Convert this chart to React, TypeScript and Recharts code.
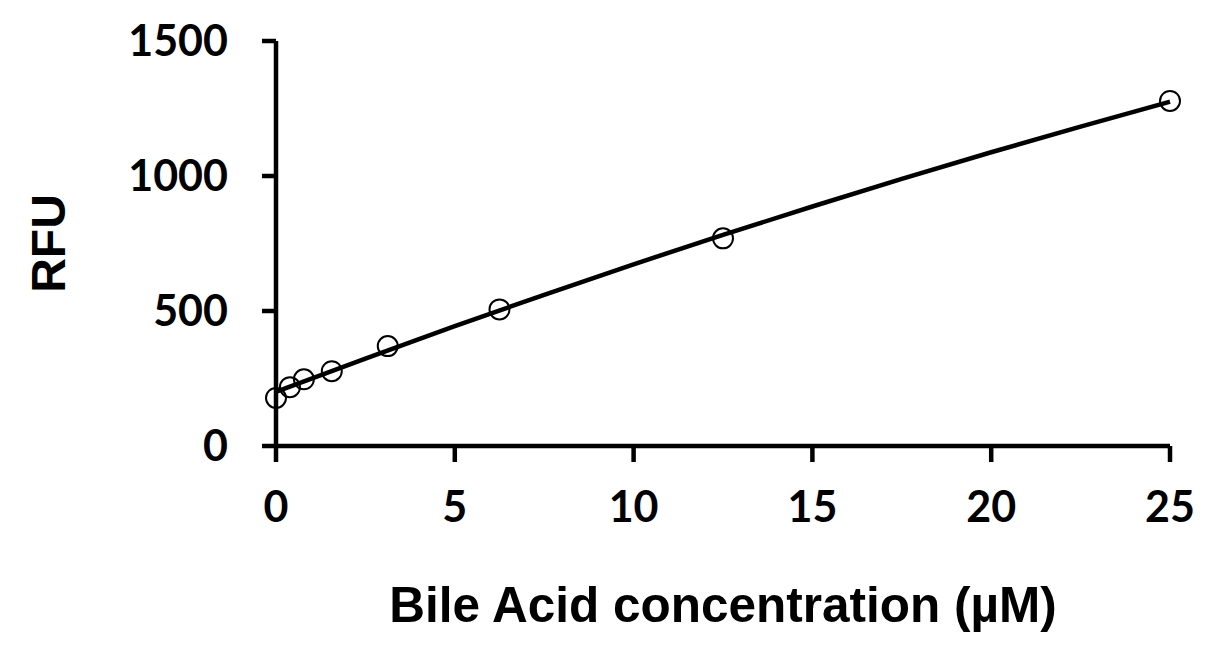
import { ComposedChart, Line, Scatter, XAxis, YAxis, Label } from "recharts";

// measured standards (µM vs RFU)
const concentrations = [0, 0.39, 0.78, 1.56, 3.125, 6.25, 12.5, 25];
const rfuValues = [178, 218, 247, 277, 370, 506, 769, 1278];

// fitted curve
const fitX = [0, 2.5, 5, 7.5, 10, 12.5, 15, 17.5, 20, 22.5, 25];
const fitY = [201, 324, 444, 560, 673, 782, 887, 989, 1088, 1183, 1275];

const xTicks = [0, 5, 10, 15, 20, 25];
const yTicks = [0, 500, 1000, 1500];

const xTitle = "Bile Acid concentration (µM)";
const yTitle = "RFU";

const points = concentrations.map((x, i) => ({ x, y: rfuValues[i] }));
const fit = fitX.map((x, i) => ({ x, y: fitY[i] }));

const tickStyle = { fill: "#000", fontSize: 43, fontWeight: 700, fontFamily: "Lato" };
const titleFont = "'Liberation Sans', Arial, sans-serif";

const OpenCircle = (props: any) => {
  if (props.cx == null || props.cy == null) return null;
  return <circle cx={props.cx} cy={props.cy} r={10} fill="none" stroke="#000" strokeWidth={2} />;
};

export default function App() {
  return (
    <div style={{ position: "absolute", left: 0, top: 0, width: 1218, height: 664, background: "#fff" }}>
      <ComposedChart width={1218} height={664} margin={{ top: 41, right: 48, bottom: 0, left: 0 }}>
        <XAxis
          type="number"
          dataKey="x"
          domain={[0, 25]}
          ticks={xTicks}
          height={218}
          tick={tickStyle}
          tickSize={16}
          tickMargin={29}
          axisLine={{ stroke: "#000", strokeWidth: 4.5 }}
          tickLine={{ stroke: "#000", strokeWidth: 4.5 }}
        >
          <Label
            content={({ viewBox }: any) => (
              <text
                x={viewBox.x + viewBox.width / 2}
                y={viewBox.y + 176}
                textAnchor="middle"
                fontFamily={titleFont}
                fontWeight={700}
                fontSize={49.5}
                fill="#000"
              >
                {xTitle}
              </text>
            )}
          />
        </XAxis>
        <YAxis
          type="number"
          dataKey="y"
          domain={[0, 1500]}
          ticks={yTicks}
          width={276}
          tick={tickStyle}
          tickSize={14}
          tickMargin={34}
          axisLine={{ stroke: "#000", strokeWidth: 4.5 }}
          tickLine={{ stroke: "#000", strokeWidth: 4.5 }}
        >
          <Label
            content={({ viewBox }: any) => {
              const cy = viewBox.y + viewBox.height / 2;
              return (
                <text
                  x={65}
                  y={cy}
                  transform={`rotate(-90, 65, ${cy})`}
                  textAnchor="middle"
                  fontFamily={titleFont}
                  fontWeight={700}
                  fontSize={48}
                  fill="#000"
                >
                  {yTitle}
                </text>
              );
            }}
          />
        </YAxis>
        <Scatter data={points} dataKey="y" shape={OpenCircle} isAnimationActive={false} />
        <Line
          data={fit}
          dataKey="y"
          type="monotone"
          stroke="#000"
          strokeWidth={4.5}
          dot={false}
          activeDot={false}
          isAnimationActive={false}
        />
      </ComposedChart>
    </div>
  );
}
